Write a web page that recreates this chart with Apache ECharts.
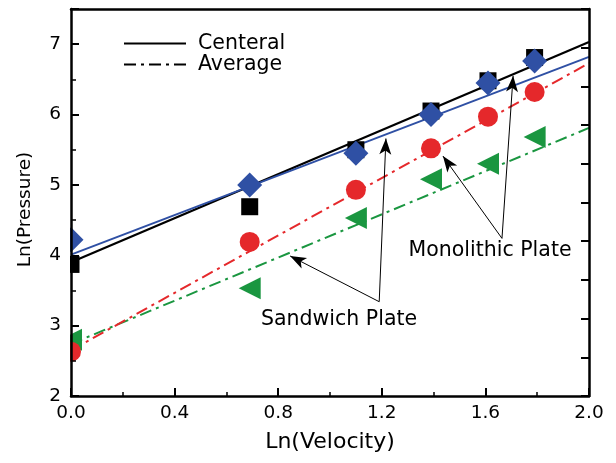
<!DOCTYPE html>
<html>
<head>
<meta charset="utf-8">
<script src="https://cdn.jsdelivr.net/npm/echarts@6/dist/echarts.min.js"></script>
<style>
  html, body { margin: 0; padding: 0; background: #fff; }
  #chart { width: 616px; height: 463px; }
</style>
</head>
<body>
<div id="chart"></div>
<script>
// Ln(Velocity) values of the six test cases
const lnVelocity = [0, 0.69, 1.10, 1.39, 1.61, 1.79];

// Measured Ln(Pressure)
const monoCentral   = [3.87, 4.69, 5.50, 6.05, 6.48, 6.81];  // black squares
const monoAverage   = [4.22, 5.00, 5.45, 6.00, 6.45, 6.76];  // blue diamonds
const sandCentral   = [2.63, 4.19, 4.93, 5.52, 5.97, 6.32];  // red circles
const sandAverage   = [2.80, 3.53, 4.53, 5.08, 5.30, 5.68];  // green triangles

// Linear fits: [x, y] at both ends of the axis
const fitMonoCentral = [[0, 3.90], [2.0, 7.03]];
const fitMonoAverage = [[0, 4.01], [2.0, 6.82]];
const fitSandCentral = [[0, 2.65], [2.0, 6.73]];
const fitSandAverage = [[0, 2.74], [2.0, 5.81]];

// Annotation arrows: [from, to]
const sandwichArrows = [
  [[1.19, 3.34], [0.846, 3.99]],
  [[1.19, 3.34], [1.216, 5.66]]
];
const monolithicArrows = [
  [[1.664, 4.24], [1.436, 5.41]],
  [[1.664, 4.24], [1.707, 6.55]]
];
const annotationText = [
  { text: 'Monolithic Plate', at: [1.618, 4.06] },
  { text: 'Sandwich Plate',   at: [1.035, 3.09] }
];

const xTicks = { min: 0, max: 2.0, step: 0.4 };
const yTicks = { min: 2, max: 7.5, step: 1 };

const FONT = 'DejaVu Sans';
const BLUE = '#2f50a4';
const RED = '#e5282b';
const GREEN = '#1a9640';
const DASHDOT = [12, 5, 3, 5];

const pts = (ys) => lnVelocity.map((x, i) => [x, ys[i]]);

const chart = echarts.init(document.getElementById('chart'), null, { renderer: 'canvas' });

const axisLine = { show: true, lineStyle: { color: '#000', width: 2.5 } };

const option = {
  backgroundColor: '#fff',
  animation: false,
  grid: { left: 71, top: 9, right: 27, bottom: 67 },
  legend: {
    orient: 'vertical',
    left: 123,
    top: 33,
    padding: 0,
    itemWidth: 62,
    itemHeight: 14,
    itemGap: 0,
    data: ['Centeral', 'Average'],
    // line only, no marker in the key
    itemStyle: { color: 'rgba(0,0,0,0)', borderColor: 'rgba(0,0,0,0)', borderWidth: 0 },
    textStyle: { fontFamily: FONT, fontSize: 20.5, lineHeight: 21, color: '#000', padding: [0, 0, 0, 7] }
  },
  xAxis: [
    {
      type: 'value',
      position: 'bottom',
      min: xTicks.min, max: xTicks.max, interval: xTicks.step,
      name: 'Ln(Velocity)',
      nameLocation: 'middle',
      nameGap: 35,
      nameTextStyle: { fontFamily: FONT, fontSize: 22, color: '#000' },
      axisLine: axisLine,
      axisTick: { show: true, inside: true, length: 8, lineStyle: { color: '#000', width: 2 } },
      minorTick: { show: true, splitNumber: 2, length: 4, lineStyle: { color: '#000', width: 1.5 } },
      splitLine: { show: false },
      axisLabel: {
        fontFamily: FONT, fontSize: 18.5, color: '#000', margin: 8,
        formatter: (v) => v.toFixed(1)
      },
      z: 10
    },
    {
      type: 'value',
      position: 'top',
      min: xTicks.min, max: xTicks.max,
      axisLine: axisLine,
      axisTick: { show: false },
      axisLabel: { show: false },
      splitLine: { show: false },
      z: 10
    }
  ],
  yAxis: [
    {
      type: 'value',
      position: 'left',
      min: yTicks.min, max: yTicks.max, interval: yTicks.step / 2,
      name: 'Ln(Pressure)',
      nameLocation: 'middle',
      nameGap: 36,
      nameTextStyle: { fontFamily: FONT, fontSize: 18.5, color: '#000', padding: [0, 14, 0, 0] },
      axisLine: axisLine,
      axisTick: { show: true, inside: true, length: 5, lineStyle: { color: '#000', width: 1.5 } },
      splitLine: { show: false },
      axisLabel: {
        fontFamily: FONT, fontSize: 18.5, color: '#000', margin: 10,
        formatter: (v) => (Math.abs(v - Math.round(v)) < 1e-6 && v <= 7 ? String(Math.round(v)) : '')
      },
      z: 10
    },
    {
      // longer ticks at the integer values
      type: 'value',
      position: 'left',
      min: yTicks.min, max: yTicks.max, interval: yTicks.step,
      axisLine: { show: false },
      axisTick: { show: true, inside: true, length: 8, lineStyle: { color: '#000', width: 2 } },
      axisLabel: { show: false },
      splitLine: { show: false },
      z: 10
    },
    {
      type: 'value',
      position: 'right',
      min: 0, max: 10, interval: 1,
      axisLine: axisLine,
      axisTick: { show: true, inside: true, length: 8, lineStyle: { color: '#000', width: 2 } },
      axisLabel: { show: false },
      splitLine: { show: false },
      z: 10
    }
  ],
  graphic: [
    // hides the parts of markers that fall left of the plotting area
    {
      type: 'rect',
      z: 5,
      shape: { x: 0, y: 0, width: 70, height: 463 },
      style: { fill: '#fff' }
    }
  ],
  series: [
    // legend entries
    { name: 'Centeral', type: 'line', data: [], symbol: 'none',
      lineStyle: { color: '#000', width: 2 }, itemStyle: { color: '#000' } },
    { name: 'Average', type: 'line', data: [], symbol: 'none',
      lineStyle: { color: '#000', width: 2, type: DASHDOT }, itemStyle: { color: '#000' } },

    // fitted lines
    { type: 'line', data: fitSandAverage, symbol: 'none', z: 2,
      lineStyle: { color: GREEN, width: 2, type: DASHDOT } },
    { type: 'line', data: fitSandCentral, symbol: 'none', z: 2,
      lineStyle: { color: RED, width: 2, type: DASHDOT } },
    { type: 'line', data: fitMonoCentral, symbol: 'none', z: 2,
      lineStyle: { color: '#000', width: 2.2 } },
    { type: 'line', data: fitMonoAverage, symbol: 'none', z: 2,
      lineStyle: { color: BLUE, width: 2 } },

    // measured points
    { type: 'scatter', data: pts(sandAverage), symbol: 'triangle', symbolRotate: 90,
      symbolSize: 22, itemStyle: { color: GREEN, opacity: 1 }, z: 3 },
    { type: 'scatter', data: pts(sandCentral), symbol: 'circle',
      symbolSize: 20, itemStyle: { color: RED, opacity: 1 }, z: 3 },
    { type: 'scatter', data: pts(monoCentral), symbol: 'rect',
      symbolSize: 17, itemStyle: { color: '#000', opacity: 1 }, z: 3 },
    { type: 'scatter', data: pts(monoAverage), symbol: 'diamond',
      symbolSize: 25, itemStyle: { color: BLUE, opacity: 1 }, z: 3 },

    // annotation arrows
    {
      type: 'lines',
      coordinateSystem: 'cartesian2d',
      z: 4,
      symbol: ['none', 'arrow'],
      symbolSize: [1, [9, 16]],
      lineStyle: { color: '#000', width: 1, opacity: 1 },
      itemStyle: { color: '#000' },
      data: sandwichArrows.concat(monolithicArrows).map((c) => ({ coords: c }))
    },
    // annotation text
    {
      type: 'scatter',
      z: 4,
      symbolSize: 0,
      itemStyle: { opacity: 1 },
      data: annotationText.map((a) => ({ value: a.at, name: a.text })),
      label: {
        show: true,
        position: 'inside',
        formatter: '{b}',
        fontFamily: FONT,
        fontSize: 20.5,
        color: '#000'
      }
    }
  ]
};

chart.setOption(option);
</script>
</body>
</html>
